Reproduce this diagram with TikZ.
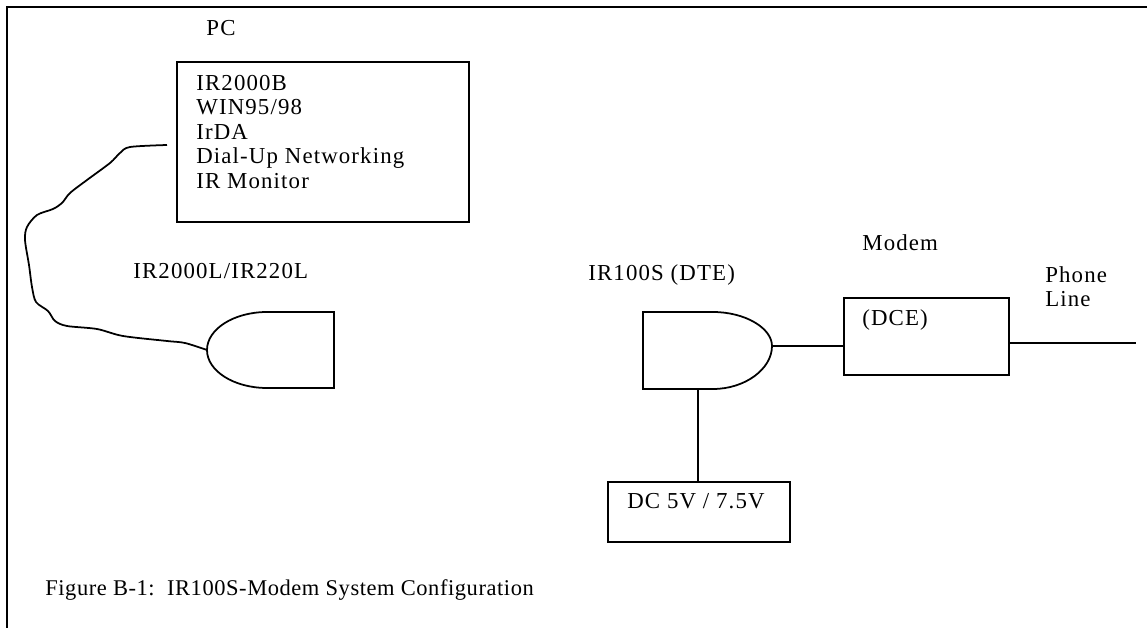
\documentclass[tikz,border=0pt]{standalone}
\usepackage{fontspec}
\setmainfont{Liberation Serif}[LetterSpace=5]
\newfontfamily\capfont{Liberation Serif}[LetterSpace=2.5]
\begin{document}
\begin{tikzpicture}[x=0.02cm, y=-0.02cm,
    lbl/.style={inner sep=0pt, anchor=west, font=\fontsize{13}{13.9}\selectfont},
    box/.style={draw, line width=1.1pt, inner sep=0pt, anchor=north west},
    wire/.style={line width=1pt}
]
\useasboundingbox (0,0) rectangle (1147,628);

% Frame
\draw[line width=1.2pt] (1147,7) -- (7,7) -- (7,628);

% PC
\node[lbl, anchor=center] (pclabel) at (221,28) {PC};
\node[box, minimum width=5.84cm, minimum height=3.2cm] (pcbox) at (176,61) {};
\node[lbl, anchor=north west, align=left] (pctext) at (196,75) {IR2000B\\WIN95/98\\IrDA\\Dial-Up Networking\\IR Monitor};
\coordinate (pcjack) at (167,145);

% IR2000L/IR220L
\node[lbl] (irllabel) at (133,271) {IR2000L/IR220L};
\coordinate (irltip) at (207,350);
\draw[wire] (334,312) -- (267,312) .. controls (234,312) and (207,329) .. (irltip)
    .. controls (207,371) and (234,388) .. (267,388) -- (334,388) -- cycle;

% Cable
\draw[wire] plot[smooth, tension=0.5] coordinates {(pcjack) (130,147) (120,153) (110,163) (87,180) (70,193) (62,203) (53,209) (37,215) (27,227) (25,240) (29,265) (32,287) (36,302) (48,311) (55,321) (67,326) (97,329) (123,336) (167,341) (185,343) (irltip)};

% IR100S
\node[lbl] (irslabel) at (588,275) {IR100S (DTE)};
\coordinate (irstip) at (772,346);
\coordinate (irsfoot) at (698,389);
\draw[wire] (643,312) -- (713,312) .. controls (745,312) and (772,328) .. (irstip)
    .. controls (772,369) and (745,389) .. (713,389) -- (643,389) -- cycle;

% Modem
\node[lbl] (modemlabel) at (862,243) {Modem};
\node[box, minimum width=3.3cm, minimum height=1.54cm] (modembox) at (843,297) {};
\node[lbl] (dce) at (862,320) {(DCE)};
\node[lbl, anchor=north west, align=left] (phone) at (1045,266) {Phone\\Line};
\coordinate (lineend) at (1136,343);

% Power
\node[box, minimum width=3.64cm, minimum height=1.2cm] (dcbox) at (607,481) {};
\node[lbl] (dctext) at (627,501) {DC 5V / 7.5V};

% Connectors
\draw[wire] (irstip) -- (irstip -| modembox.west);
\draw[wire] (modembox.east |- lineend) -- (lineend);
\draw[wire] (irsfoot) -- (irsfoot |- dcbox.north);

% Caption
\node[lbl, font=\capfont\fontsize{12.8}{15}\selectfont] (caption) at (45,590) {Figure B-1:\ \ IR100S-Modem System Configuration};
\end{tikzpicture}
\end{document}
